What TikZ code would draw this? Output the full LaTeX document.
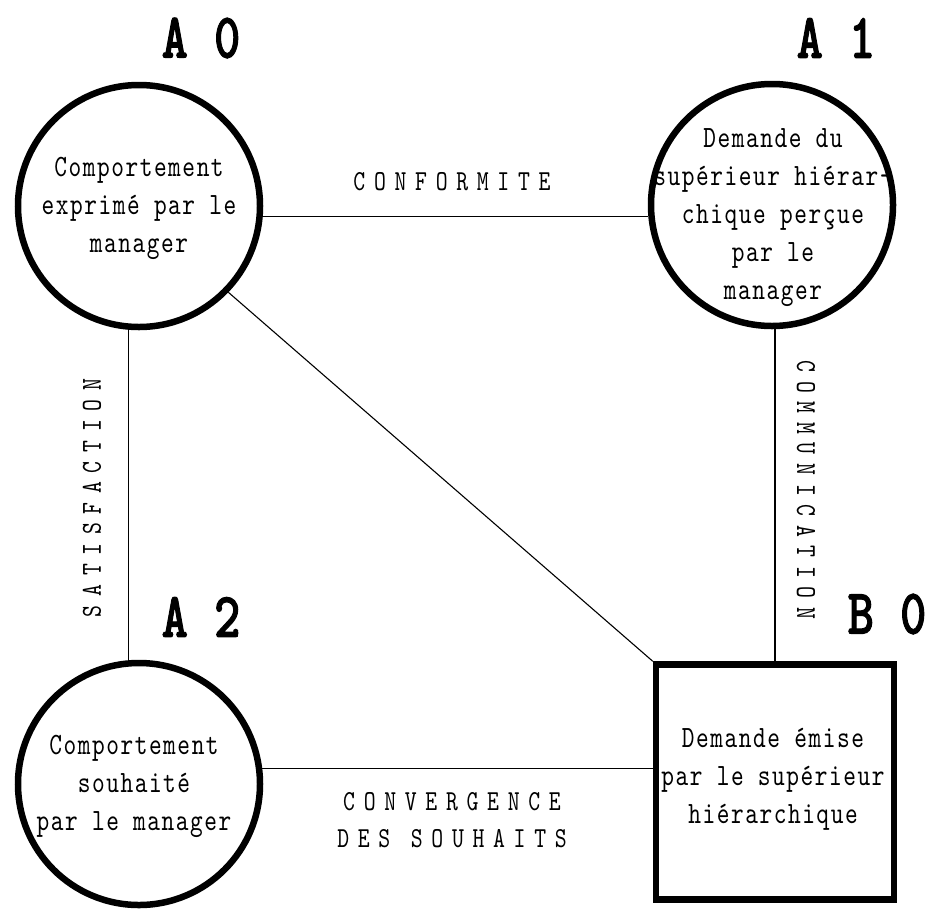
\documentclass[tikz,border=0pt]{standalone}
\usepackage{fontspec}
\newfontfamily\monotxt[FakeStretch=0.78,LetterSpace=5]{lmmono10-regular.otf}
\newfontfamily\widetxt[FakeStretch=0.78,LetterSpace=30]{lmmono10-regular.otf}
\newfontfamily\titletxt[FakeStretch=0.78,FakeBold=1.5]{lmmonolt10-bold.otf}
\begin{document}
\begin{tikzpicture}[x=1pt,y=-1pt,
  circ/.style={circle,draw,line width=6.5pt,minimum size=242pt,inner sep=0pt},
  boxnode/.style={rectangle,draw,line width=6.5pt,minimum width=238pt,minimum height=235pt,inner sep=0pt},
  inner/.style={align=center,font=\monotxt\fontsize{31}{38}\selectfont,inner sep=0pt},
  edgelab/.style={align=center,font=\widetxt\fontsize{29}{37}\selectfont,inner sep=0pt},
  title/.style={font=\titletxt\fontsize{64}{66}\selectfont,inner sep=0pt},
  conn/.style={line width=1.1pt}]
\useasboundingbox (0,0) rectangle (928,908);
\node[circ] (A0) at (139,206) {};
\node[circ] (A1) at (772,205) {};
\node[circ] (A2) at (139,784) {};
\node[boxnode] (B0) at (775,782) {};
\node[inner] (A0t) at (139,208) {Comportement\\exprimé par le\\manager};
\node[inner] (A1t) at (773,218) {Demande du\\supérieur hiérar-\\chique perçue\\par le\\manager};
\node[inner] (A2t) at (134,786) {Comportement\\souhaité\\par le manager};
\node[inner] (B0t) at (773,779) {Demande émise\\par le supérieur\\hiérarchique};
\node[title] (T0) at (201,38) {A 0};
\node[title] (T1) at (836,38) {A 1};
\node[title] (T2) at (201,617) {A 2};
\node[title] (T3) at (887,614) {B 0};
\draw[conn] (A0.-5) -- (A0.-5 -| A1.west);
\draw[conn] (A0.265) -- (A0.265 |- A2.north);
\draw[conn] (B0.north) -- (B0.north |- A1.south);
\draw[conn] (A2.7) -- (A2.7 -| B0.west);
\draw[conn] (A0.-44) -- (B0.north west);
\node[edgelab] (L1) at (452,182) {CONFORMITE};
\node[edgelab] (L2) at (452,820) {CONVERGENCE\\DES SOUHAITS};
\node[edgelab,rotate=90] (L3) at (92,498) {SATISFACTION};
\node[edgelab,rotate=-90] (L4) at (806,490) {COMMUNICATION};
\end{tikzpicture}
\end{document}
